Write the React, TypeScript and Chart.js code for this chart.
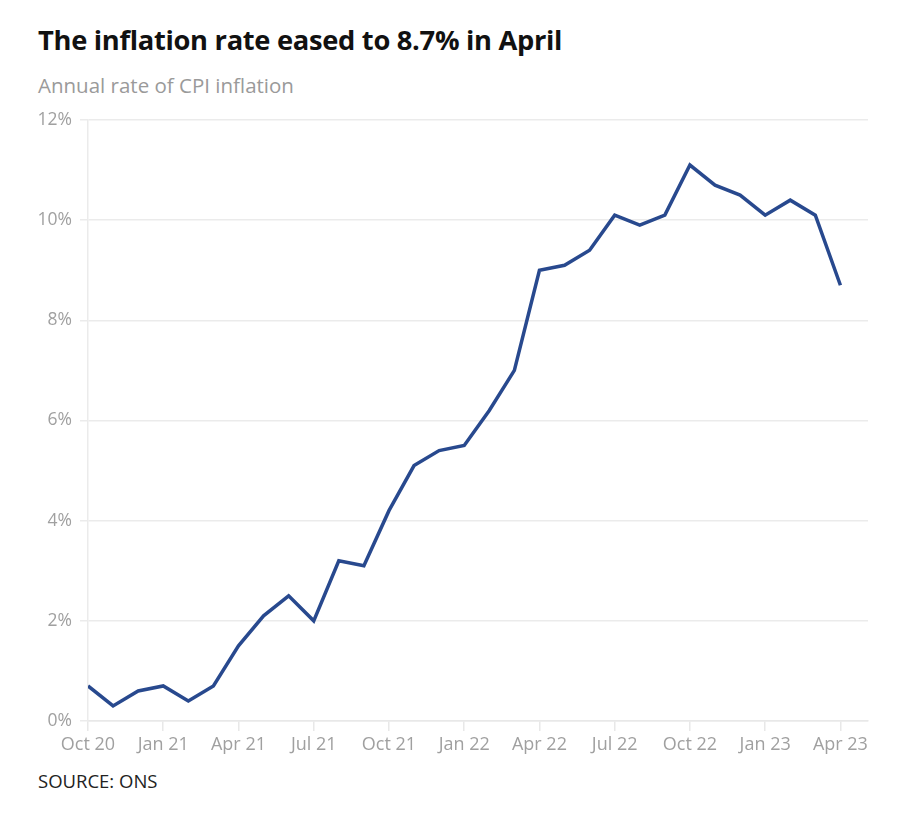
import React, { useEffect, useRef } from "react";
import { Chart, registerables } from "chart.js";

Chart.register(...registerables);

const months = [
  "Oct 20","Nov 20","Dec 20","Jan 21","Feb 21","Mar 21","Apr 21","May 21","Jun 21","Jul 21","Aug 21","Sep 21",
  "Oct 21","Nov 21","Dec 21","Jan 22","Feb 22","Mar 22","Apr 22","May 22","Jun 22","Jul 22","Aug 22","Sep 22",
  "Oct 22","Nov 22","Dec 22","Jan 23","Feb 23","Mar 23","Apr 23",
];
const cpi = [
  0.7, 0.3, 0.6, 0.7, 0.4, 0.7, 1.5, 2.1, 2.5, 2.0, 3.2, 3.1,
  4.2, 5.1, 5.4, 5.5, 6.2, 7.0, 9.0, 9.1, 9.4, 10.1, 9.9, 10.1,
  11.1, 10.7, 10.5, 10.1, 10.4, 10.1, 8.7,
];
const yTicks = [0, 2, 4, 6, 8, 10, 12];
const xTickIndexes = [0, 3, 6, 9, 12, 15, 18, 21, 24, 27, 30];

const FONT = "'Open Sans', 'Noto Sans', sans-serif";

export default function App() {
  const ref = useRef<HTMLCanvasElement | null>(null);
  useEffect(() => {
    if (!ref.current) return;
    const chart = new Chart(ref.current, {
      type: "line",
      data: {
        datasets: [
          {
            data: cpi.map((v, i) => ({ x: i, y: v })),
            borderColor: "#28498e",
            borderWidth: 3.5,
            pointRadius: 0,
            tension: 0,
            fill: false,
            borderJoinStyle: "miter",
          },
        ],
      },
      options: {
        animation: false,
        responsive: false,
        maintainAspectRatio: false,
        layout: { padding: { left: 0, right: 46, top: 19, bottom: 0 } },
        plugins: { legend: { display: false }, tooltip: { enabled: false } },
        scales: {
          x: {
            type: "linear",
            min: 0,
            max: 31.1,
            afterBuildTicks: (scale: any) => {
              scale.ticks = xTickIndexes.map((v) => ({ value: v }));
            },
            afterFit: (scale: any) => {
              scale.height = 40;
            },
            ticks: {
              autoSkip: false,
              maxRotation: 0,
              padding: 3,
              color: "#a0a0a0",
              font: { family: FONT, size: 18 },
              callback: (v: any) => months[Math.round(Number(v))] ?? "",
            },
            grid: {
              drawOnChartArea: false,
              drawTicks: true,
              tickLength: 10,
              color: "#e8e8e8",
              lineWidth: 1.5,
            },
            border: { display: true, color: "#e8e8e8", width: 1.5 },
          },
          y: {
            min: 0,
            max: 12,
            afterBuildTicks: (scale: any) => {
              scale.ticks = yTicks.map((v) => ({ value: v }));
            },
            afterFit: (scale: any) => {
              scale.width = 88;
            },
            ticks: {
              padding: 8,
              color: "#a0a0a0",
              font: { family: FONT, size: 17.5 },
              callback: (v: any) => `${v}%`,
            },
            grid: {
              color: "#ebebeb",
              lineWidth: 1.5,
              tickLength: 8,
            },
            border: { display: true, color: "#ebebeb", width: 1.5 },
          },
        },
      },
    });
    return () => chart.destroy();
  }, []);

  return (
    <div style={{ position: "absolute", left: 0, top: 0, width: 914, height: 816, background: "#fff", fontFamily: FONT }}>
      <div style={{ position: "absolute", left: 38, top: 21, fontSize: 27.3, fontWeight: 700, color: "#111", letterSpacing: -0.3, whiteSpace: "nowrap" }}>
        The inflation rate eased to 8.7% in April
      </div>
      <div style={{ position: "absolute", left: 38, top: 71, fontSize: 20.5, fontWeight: 400, color: "#9a9a9a", whiteSpace: "nowrap" }}>
        Annual rate of CPI inflation
      </div>
      <canvas ref={ref} width={914} height={660} style={{ position: "absolute", left: 0, top: 101, width: 914, height: 660 }} />
      <div style={{ position: "absolute", left: 38, top: 768, fontSize: 18.5, color: "#222", whiteSpace: "nowrap" }}>
        SOURCE: ONS
      </div>
    </div>
  );
}
